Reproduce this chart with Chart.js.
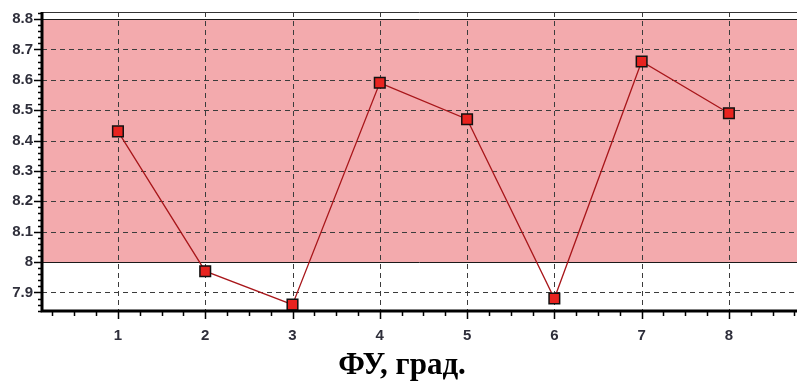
<!DOCTYPE html>
<html>
<head>
<meta charset="utf-8">
<script src="https://cdn.jsdelivr.net/npm/chart.js@4/dist/chart.umd.min.js"></script>
<style>
  html, body { margin: 0; padding: 0; background: #fff; overflow: hidden; }
  #wrap { width: 797px; height: 382px; position: relative; }
</style>
</head>
<body>
<div id="wrap"><canvas id="c" width="797" height="382"></canvas></div>
<script>
// Measured values per position
const positions = [1, 2, 3, 4, 5, 6, 7, 8];
const values = [8.43, 7.97, 7.86, 8.59, 8.47, 7.88, 8.66, 8.49];

// Axis ticks and labels
const xTicks = [1, 2, 3, 4, 5, 6, 7, 8];
const yTicks = [7.9, 8.0, 8.1, 8.2, 8.3, 8.4, 8.5, 8.6, 8.7, 8.8];
const yTickLabels = ['7.9', '8', '8.1', '8.2', '8.3', '8.4', '8.5', '8.6', '8.7', '8.8'];
const xRange = [0.13, 8.78];
const yRange = [7.839, 8.823];
const xMinorStep = 0.25;
const yMinorStep = 0.02;

// Tolerance band (shaded)
const band = [8.0, 8.8];
// Lines drawn solid instead of dashed
const solidLevels = [8.0, 8.8];

const axisTitle = 'ФУ, град.';

const labelFont = { family: 'Liberation Sans, Arial, sans-serif', size: 15, weight: 'bold' };
const labelColor = '#2e2e3a';

const framePlugin = {
  id: 'frame',
  beforeDatasetsDraw(chart) {
    const { ctx, chartArea: a, scales: { x, y } } = chart;
    ctx.save();
    // shaded band
    const yTop = y.getPixelForValue(band[1]);
    const yBot = y.getPixelForValue(band[0]);
    ctx.fillStyle = 'rgb(243,170,173)';
    ctx.fillRect(a.left, yTop, a.right - a.left, yBot - yTop);

    // dashed grid
    ctx.strokeStyle = '#3c3c3c';
    ctx.lineWidth = 1;
    ctx.setLineDash([5, 4]);
    xTicks.forEach(v => {
      const px = Math.round(x.getPixelForValue(v)) + 0.5;
      ctx.beginPath();
      ctx.moveTo(px, a.top);
      ctx.lineTo(px, a.bottom);
      ctx.stroke();
    });
    yTicks.forEach(v => {
      if (solidLevels.includes(v)) return;
      const py = Math.round(y.getPixelForValue(v)) + 0.5;
      ctx.beginPath();
      ctx.moveTo(a.left, py);
      ctx.lineTo(a.right, py);
      ctx.stroke();
    });
    ctx.setLineDash([]);

    // solid level lines and top border
    ctx.strokeStyle = '#1a1a1a';
    solidLevels.forEach(v => {
      const py = Math.round(y.getPixelForValue(v)) + 0.5;
      ctx.beginPath();
      ctx.moveTo(a.left, py);
      ctx.lineTo(a.right, py);
      ctx.stroke();
    });
    ctx.strokeStyle = '#333';
    ctx.beginPath();
    ctx.moveTo(a.left, a.top + 0.5);
    ctx.lineTo(a.right, a.top + 0.5);
    ctx.stroke();
    ctx.restore();
  },
  afterDatasetsDraw(chart) {
    const { ctx, chartArea: a, scales: { x, y } } = chart;
    ctx.save();
    ctx.strokeStyle = '#000';
    // axis lines
    ctx.lineWidth = 3;
    ctx.beginPath();
    ctx.moveTo(a.left, a.top);
    ctx.lineTo(a.left, a.bottom + 1.5);
    ctx.moveTo(a.left - 1.5, a.bottom);
    ctx.lineTo(a.right, a.bottom);
    ctx.stroke();

    // tick marks
    ctx.lineWidth = 1.5;
    ctx.beginPath();
    for (let v = Math.ceil(yRange[0] / yMinorStep) * yMinorStep; v <= yRange[1] + 1e-9; v += yMinorStep) {
      const py = Math.round(y.getPixelForValue(v)) + 0.5;
      const major = yTicks.some(t => Math.abs(t - v) < 1e-6);
      ctx.moveTo(a.left - (major ? 8 : 4), py);
      ctx.lineTo(a.left, py);
    }
    for (let v = Math.ceil(xRange[0] / xMinorStep) * xMinorStep; v <= xRange[1] + 1e-9; v += xMinorStep) {
      const px = Math.round(x.getPixelForValue(v)) + 0.5;
      const major = xTicks.some(t => Math.abs(t - v) < 1e-6);
      ctx.moveTo(px, a.bottom);
      ctx.lineTo(px, a.bottom + (major ? 8 : 5));
    }
    ctx.stroke();
    ctx.restore();
  },
  afterDraw(chart) {
    const { ctx } = chart;
    ctx.save();
    ctx.fillStyle = '#000';
    ctx.font = 'bold 31px "Liberation Serif", "Times New Roman", serif';
    ctx.textAlign = 'center';
    ctx.textBaseline = 'alphabetic';
    ctx.fillText(axisTitle, 402, 374);
    ctx.restore();
  }
};

function noPad(s) {
  s.paddingTop = 0;
  s.paddingBottom = 0;
  s.paddingLeft = 0;
  s.paddingRight = 0;
}

new Chart(document.getElementById('c'), {
  type: 'line',
  data: {
    datasets: [{
      data: positions.map((p, i) => ({ x: p, y: values[i] })),
      borderColor: '#a8161a',
      borderWidth: 1.3,
      pointStyle: 'rect',
      pointRadius: 7.5,
      pointBackgroundColor: '#e8231f',
      pointBorderColor: '#111',
      pointBorderWidth: 1.5,
      tension: 0,
      fill: false,
      clip: false
    }]
  },
  options: {
    responsive: false,
    animation: false,
    devicePixelRatio: 1,
    layout: { autoPadding: false, padding: { top: 12, left: 0, right: 0, bottom: 0 } },
    plugins: { legend: { display: false }, tooltip: { enabled: false }, title: { display: false } },
    scales: {
      x: {
        type: 'linear',
        min: xRange[0],
        max: xRange[1],
        afterBuildTicks: s => { s.ticks = xTicks.map(v => ({ value: v })); },
        afterFit: s => { s.height = 71; noPad(s); },
        grid: { display: false, drawTicks: false, tickLength: 0 },
        border: { display: false },
        ticks: {
          padding: 16,
          autoSkip: false,
          maxRotation: 0,
          font: labelFont,
          color: labelColor,
          callback: v => String(v)
        }
      },
      y: {
        type: 'linear',
        min: yRange[0],
        max: yRange[1],
        afterBuildTicks: s => { s.ticks = yTicks.map(v => ({ value: v })); },
        afterFit: s => { s.width = 42; noPad(s); },
        grid: { display: false, drawTicks: false, tickLength: 0 },
        border: { display: false },
        ticks: {
          padding: 9,
          autoSkip: false,
          font: labelFont,
          color: labelColor,
          callback: (v) => {
            const i = yTicks.findIndex(t => Math.abs(t - v) < 1e-6);
            return i >= 0 ? yTickLabels[i] : '';
          }
        }
      }
    }
  },
  plugins: [framePlugin]
});
</script>
</body>
</html>
